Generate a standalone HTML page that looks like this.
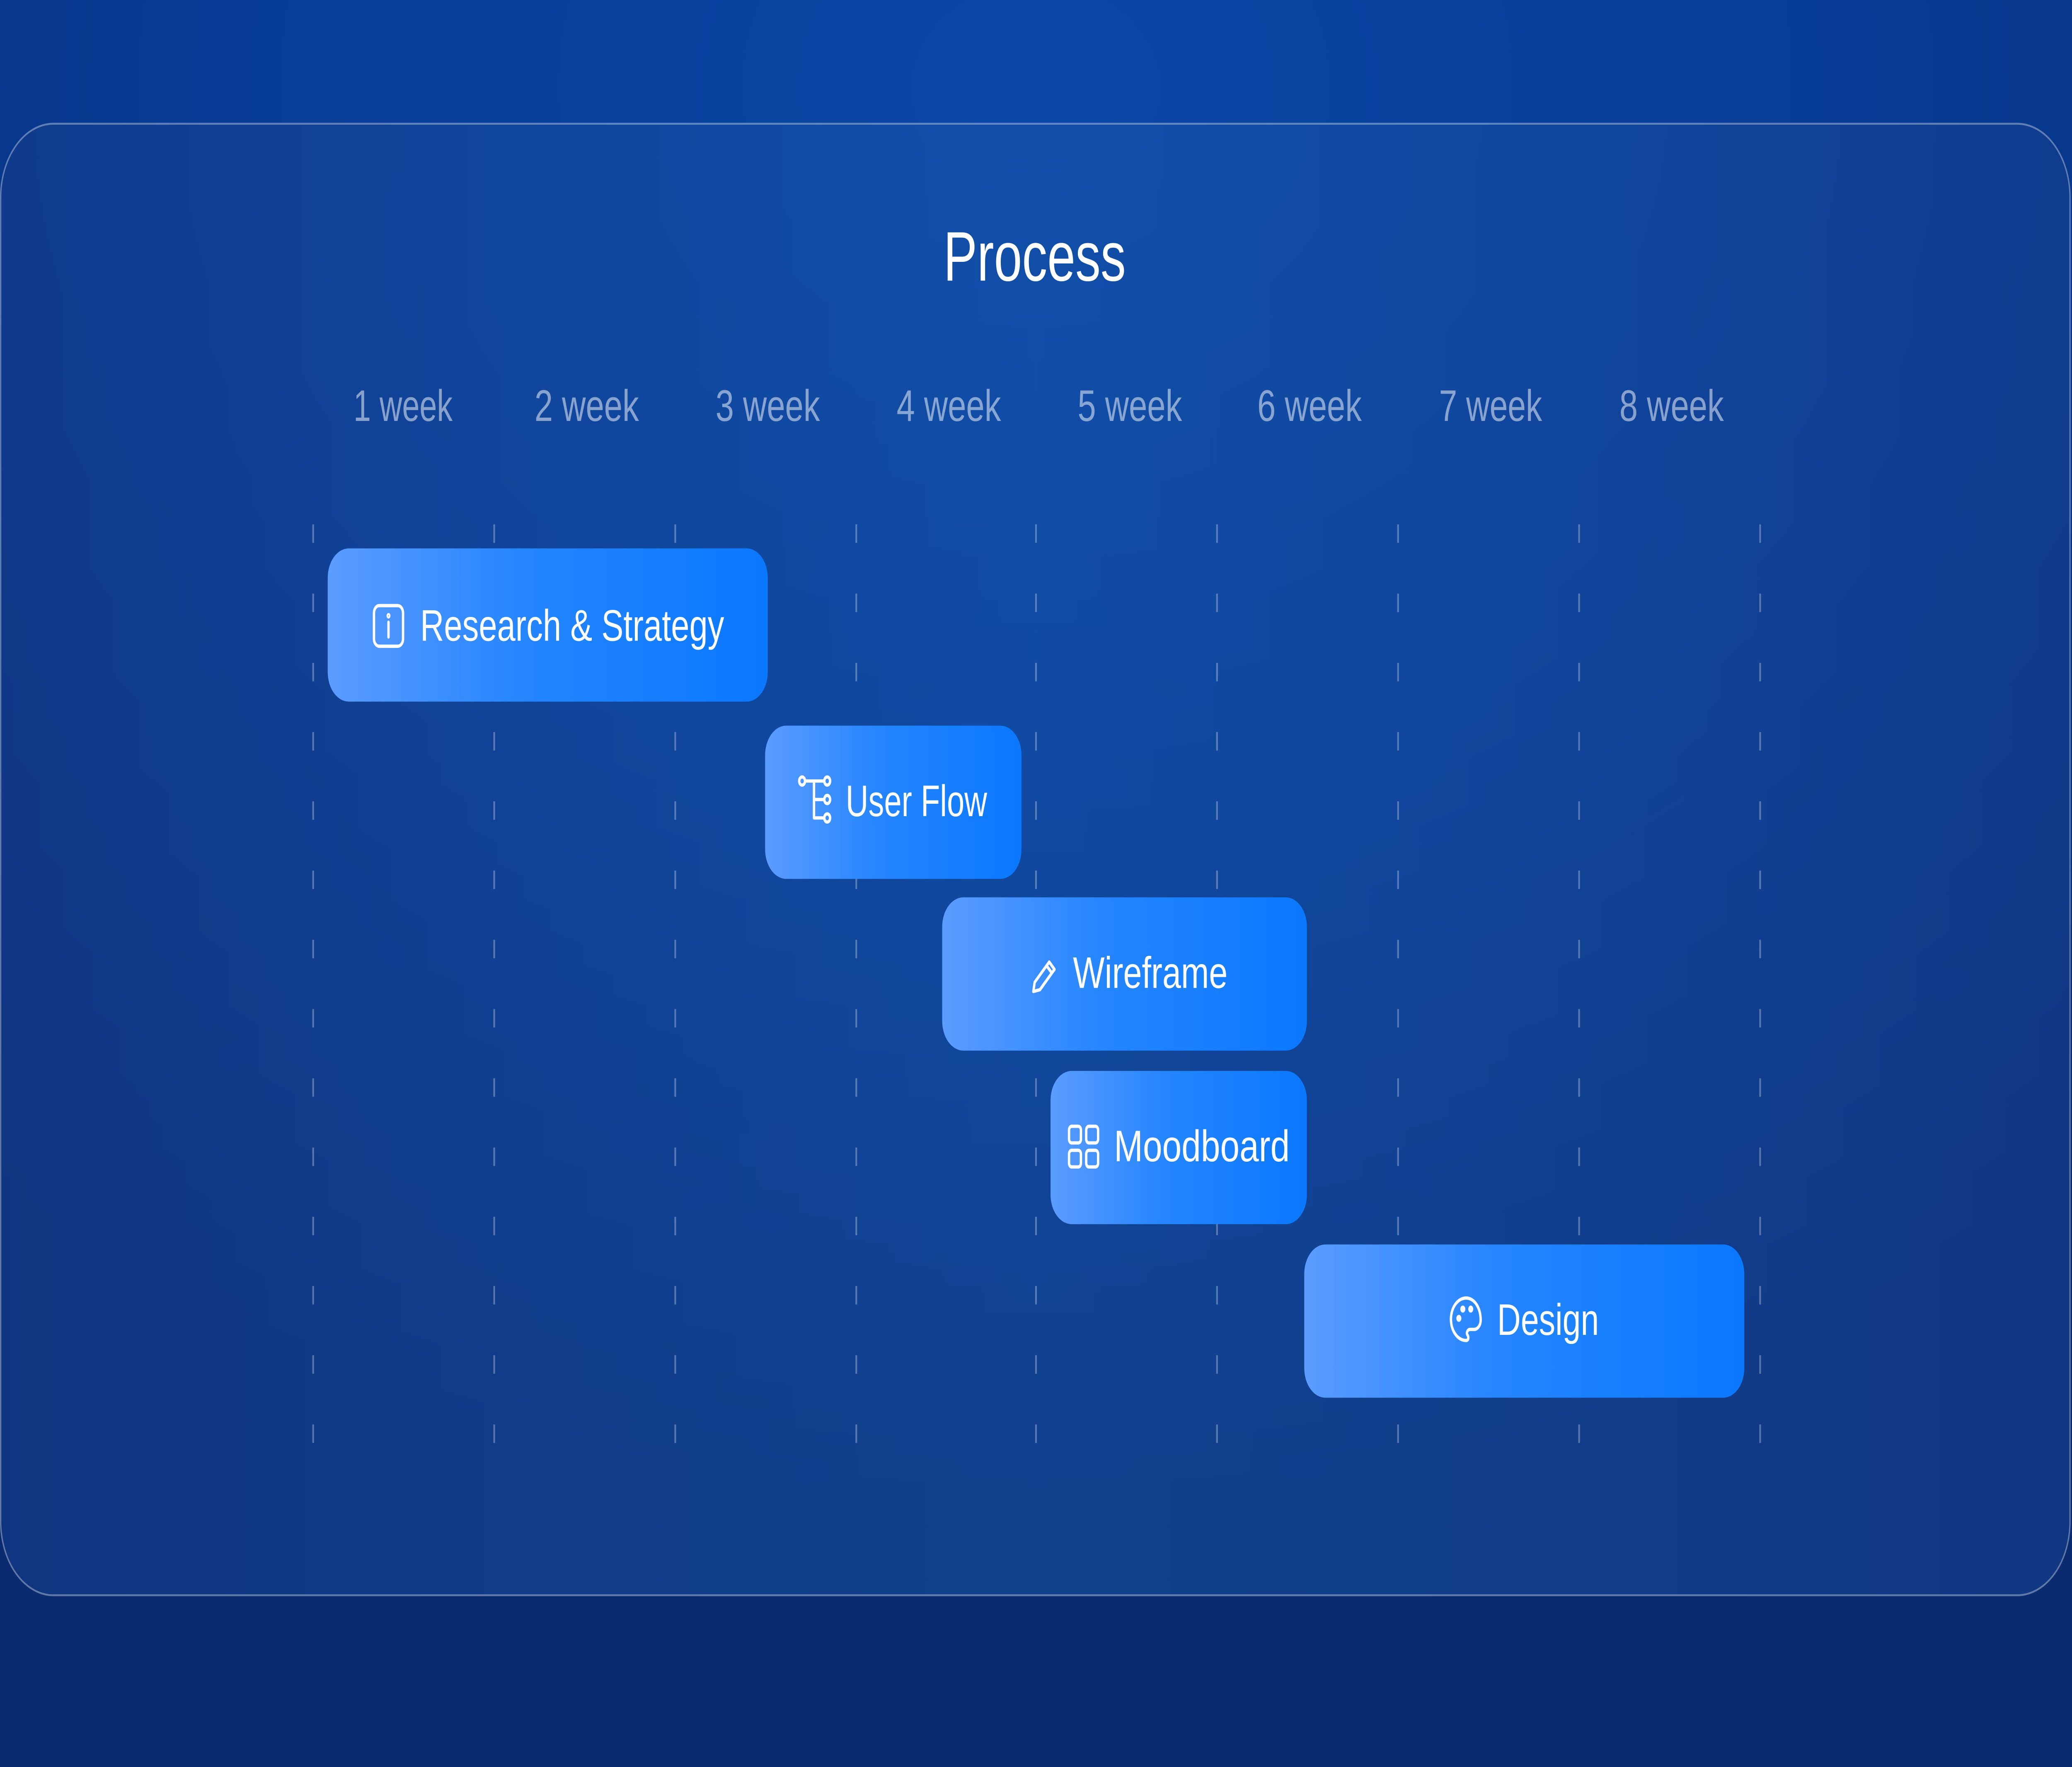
<!DOCTYPE html>
<html><head><meta charset="utf-8"><style>
html,body{margin:0;padding:0;width:100%;height:100%;overflow:hidden;background:#083a92;}
svg.main{position:fixed;left:0;top:0;width:100vw;height:100vh;display:block}
text{font-family:"Liberation Sans",sans-serif;}
</style></head><body>
<svg class="main" viewBox="0 0 1568 957" preserveAspectRatio="none" xmlns="http://www.w3.org/2000/svg">
<defs>
<radialGradient id="bg" cx="50%" cy="5%" r="80%">
<stop offset="0" stop-color="#0a47a6"/><stop offset="0.5" stop-color="#083c96"/><stop offset="1" stop-color="#0a2b70"/>
</radialGradient>
<linearGradient id="cd" x1="0" x2="1" y1="0" y2="0">
<stop offset="0" stop-color="#143c8a" stop-opacity="0.6"/><stop offset="0.5" stop-color="#1a5ab0" stop-opacity="0.45"/><stop offset="1" stop-color="#153f8e" stop-opacity="0.6"/>
</linearGradient>
<linearGradient id="bar" x1="0" x2="1" y1="0" y2="0">
<stop offset="0" stop-color="#5b9cff"/><stop offset="0.45" stop-color="#2485ff"/><stop offset="1" stop-color="#0a78ff"/>
</linearGradient>
</defs>
<rect x="0" y="0" width="1568" height="957" fill="url(#bg)"/>
<rect x="0.5" y="67" width="1566" height="797" rx="40" fill="url(#cd)" stroke="rgba(255,255,255,0.35)" stroke-width="1"/>
<text x="783" y="152" text-anchor="middle" font-size="38" fill="#fff" textLength="138" lengthAdjust="spacingAndGlyphs">Process</text>
<g font-size="24" fill="rgba(255,255,255,0.5)" text-anchor="middle">
<text x="305" y="228" textLength="75" lengthAdjust="spacingAndGlyphs">1 week</text>
<text x="444" y="228" textLength="79" lengthAdjust="spacingAndGlyphs">2 week</text>
<text x="581" y="228" textLength="79" lengthAdjust="spacingAndGlyphs">3 week</text>
<text x="718" y="228" textLength="79" lengthAdjust="spacingAndGlyphs">4 week</text>
<text x="855" y="228" textLength="79" lengthAdjust="spacingAndGlyphs">5 week</text>
<text x="991" y="228" textLength="79" lengthAdjust="spacingAndGlyphs">6 week</text>
<text x="1128" y="228" textLength="78" lengthAdjust="spacingAndGlyphs">7 week</text>
<text x="1265" y="228" textLength="79" lengthAdjust="spacingAndGlyphs">8 week</text>
</g>
<g stroke="rgba(255,255,255,0.3)" stroke-width="1.3" stroke-dasharray="10 27.5">
<line x1="237" y1="284" x2="237" y2="808"/><line x1="374" y1="284" x2="374" y2="808"/>
<line x1="511" y1="284" x2="511" y2="808"/><line x1="648" y1="284" x2="648" y2="808"/>
<line x1="784" y1="284" x2="784" y2="808"/><line x1="921" y1="284" x2="921" y2="808"/>
<line x1="1058" y1="284" x2="1058" y2="808"/><line x1="1195" y1="284" x2="1195" y2="808"/>
<line x1="1332" y1="284" x2="1332" y2="808"/>
</g>
<g fill="url(#bar)">
<rect x="248" y="297" width="333" height="83" rx="16"/>
<rect x="579" y="393" width="194" height="83" rx="16"/>
<rect x="713" y="486" width="276" height="83" rx="16"/>
<rect x="795" y="580" width="194" height="83" rx="16"/>
<rect x="987" y="674" width="333" height="83" rx="16"/>
</g>
<g font-size="24" fill="#fff">
<text x="318" y="347" textLength="230" lengthAdjust="spacingAndGlyphs">Research &amp; Strategy</text>
<text x="640" y="442" textLength="107" lengthAdjust="spacingAndGlyphs">User Flow</text>
<text x="812" y="535" textLength="117" lengthAdjust="spacingAndGlyphs">Wireframe</text>
<text x="843" y="629" textLength="133" lengthAdjust="spacingAndGlyphs">Moodboard</text>
<text x="1133" y="723" textLength="77" lengthAdjust="spacingAndGlyphs">Design</text>
</g>
<g stroke="#fff" fill="none" stroke-width="1.8" stroke-linecap="round" stroke-linejoin="round">
<g transform="translate(282,327)"><rect x="1" y="1" width="22" height="22" rx="4"/><line x1="12" y1="10" x2="12" y2="18"/><circle cx="12" cy="6.5" r="0.6"/></g>
<g transform="translate(604,420)"><circle cx="3" cy="3" r="2.2"/><circle cx="22" cy="3" r="2.2"/><circle cx="22" cy="13" r="2.2"/><circle cx="22" cy="23" r="2.2"/><path d="M5.5 3H19.5M12 3V23H19.5M12 13H19.5"/></g>
<g transform="translate(780,516)"><path d="M2 21l1-5L14 5l4 4L7 20z M12 7l4 4"/></g>
<g transform="translate(808,609)"><rect x="1" y="1" width="9" height="9" rx="2"/><rect x="14" y="1" width="9" height="9" rx="2"/><rect x="1" y="14" width="9" height="9" rx="2"/><rect x="14" y="14" width="9" height="9" rx="2"/></g>
<g transform="translate(1097,702)"><path d="M12.5 1a11.5 11.5 0 1 0 0 23c2 0 2-2 1-3s0-3 2-3h3a5 5 0 0 0 5-5C23.5 6 18.5 1 12.5 1z"/><circle cx="7" cy="12" r="1"/><circle cx="10" cy="7" r="1"/><circle cx="16" cy="7" r="1"/></g>
</g>
</svg>
</body></html>
